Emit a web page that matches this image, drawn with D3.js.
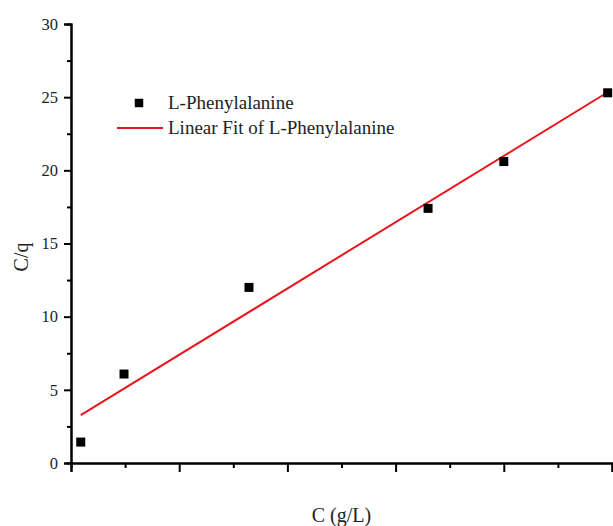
<!DOCTYPE html>
<html>
<head>
<meta charset="utf-8">
<script src="https://cdn.jsdelivr.net/npm/d3@7"></script>
<style>
  body { margin: 0; background: #fff; }
  svg { display: block; font-family: "Liberation Serif", "Times New Roman", serif; }
</style>
</head>
<body>
<script>
var concC = [0.09, 0.49, 1.645, 3.30, 4.00, 4.96];
var ratioCq = [1.43, 6.08, 12.0, 17.4, 20.6, 25.3];
var yTicks = [0, 5, 10, 15, 20, 25, 30];
var xTicks = [0, 1, 2, 3, 4, 5];
var seriesName = "L-Phenylalanine";
var fitName = "Linear Fit of L-Phenylalanine";

var width = 613, height = 526;
var svg = d3.select("body").append("svg").attr("width", width).attr("height", height);

var x = d3.scaleLinear().domain([0, 5]).range([71, 612]);
var y = d3.scaleLinear().domain([0, 30]).range([463, 24]);

// least squares fit
var mx = d3.mean(concC), my = d3.mean(ratioCq);
var sxy = d3.sum(concC, function(d, i) { return (d - mx) * (ratioCq[i] - my); });
var sxx = d3.sum(concC, function(d) { return (d - mx) * (d - mx); });
var slope = sxy / sxx, icpt = my - slope * mx;
var xr = d3.extent(concC);

// minor ticks
svg.append("g").attr("transform", "translate(71,0)")
  .call(d3.axisLeft(y).tickValues(d3.range(2.5, 30, 5)).tickSize(4).tickFormat(""));
svg.append("g").attr("transform", "translate(0,463)")
  .call(d3.axisBottom(x).tickValues(d3.range(0.5, 5, 1)).tickSize(5).tickFormat(""));

var yAxis = svg.append("g").attr("transform", "translate(71,0)")
  .call(d3.axisLeft(y).tickValues(yTicks).tickSize(7).tickPadding(6));
yAxis.selectAll("text").attr("font-size", 16.5).attr("font-family", "Liberation Serif").attr("fill", "#222");

svg.append("g").attr("transform", "translate(0,463)")
  .call(d3.axisBottom(x).tickValues(xTicks).tickSize(9).tickFormat(""));

svg.selectAll(".domain").attr("stroke", "#000").attr("stroke-width", 2);
svg.selectAll(".tick line").attr("stroke", "#000").attr("stroke-width", 2);

// fit line
svg.append("line")
  .attr("x1", x(xr[0])).attr("y1", y(slope * xr[0] + icpt))
  .attr("x2", x(xr[1])).attr("y2", y(slope * xr[1] + icpt))
  .attr("stroke", "#e8141e").attr("stroke-width", 2);

// points
svg.selectAll("path.pt")
  .data(concC)
  .enter().append("path")
  .attr("class", "pt")
  .attr("d", d3.symbol(d3.symbolSquare, 81))
  .attr("transform", function(d, i) { return "translate(" + x(d) + "," + y(ratioCq[i]) + ")"; })
  .attr("fill", "#000");

// axis titles
svg.append("text").attr("x", 341.5).attr("y", 522)
  .attr("text-anchor", "middle").attr("font-size", 20).attr("fill", "#222")
  .text("C (g/L)");
svg.append("text").attr("transform", "translate(28,257) rotate(-90)")
  .attr("text-anchor", "middle").attr("font-size", 20).attr("fill", "#222")
  .text("C/q");

// legend
var lg = svg.append("g");
lg.append("path").attr("d", d3.symbol(d3.symbolSquare, 72))
  .attr("transform", "translate(139,103)").attr("fill", "#000");
lg.append("line").attr("x1", 117).attr("x2", 163).attr("y1", 128).attr("y2", 128)
  .attr("stroke", "#e8141e").attr("stroke-width", 2);
lg.append("text").attr("x", 168).attr("y", 109).attr("font-size", 19).attr("fill", "#222").text(seriesName);
lg.append("text").attr("x", 168).attr("y", 134).attr("font-size", 19).attr("fill", "#222").text(fitName);
</script>
</body>
</html>
